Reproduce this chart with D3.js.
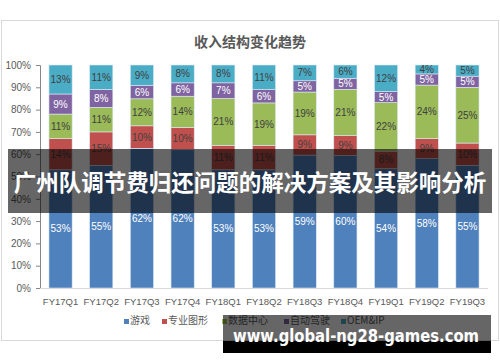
<!DOCTYPE html>
<html>
<head>
<meta charset="utf-8">
<script src="https://cdn.jsdelivr.net/npm/d3@7"></script>
<style>
  body { margin: 0; background: #fff; }
  text { font-family: "Microsoft YaHei", "Noto Sans CJK SC", sans-serif; }
</style>
</head>
<body>
<script>
// data
var quarters = ["FY17Q1","FY17Q2","FY17Q3","FY17Q4","FY18Q1","FY18Q2","FY18Q3","FY18Q4","FY19Q1","FY19Q2","FY19Q3"];
var seriesNames = ["游戏","专业图形","数据中心","自动驾驶","OEM&IP"];
var gaming     = [53,55,62,62,53,53,59,60,54,58,55];
var proViz     = [14,15,10,10,11,11, 9, 9, 8, 9,10];
var dataCenter = [11,11,12,14,21,19,19,21,22,24,25];
var auto       = [ 9, 8, 6, 6, 7, 6, 5, 5, 5, 5, 5];
var oem        = [13,11, 9, 8, 8,11, 7, 6,12, 4, 5];
var yTicks = [0,0.1,0.2,0.3,0.4,0.5,0.6,0.7,0.8,0.9,1];

var colors = ["#4f81bd","#c0504d","#9bbb59","#8064a2","#4bacc6"];
var labelColors = ["#fff","#404040","#404040","#fff","#404040"];

var w = 500, h = 362;

// build rows for the stack, normalised to 100%
var allSeries = [gaming, proViz, dataCenter, auto, oem];
var rows = quarters.map(function(q, i){
    var total = d3.sum(allSeries, function(s){ return s[i]; });
    var row = {quarter: q};
    seriesNames.forEach(function(name, k){
        row[name] = allSeries[k][i] / total;
        row[name + "_raw"] = allSeries[k][i];
    });
    return row;
});

var stacked = d3.stack().keys(seriesNames)(rows);

var svg = d3.select("body").append("svg")
    .attr("width", w)
    .attr("height", h);

// chart frame
svg.append("rect")
    .attr("x", 1.5).attr("y", 20.5)
    .attr("width", 497).attr("height", 320)
    .attr("fill", "#fff")
    .attr("stroke", "#d9d9d9");

// title
svg.append("text")
    .attr("x", 250).attr("y", 47)
    .attr("text-anchor", "middle")
    .attr("font-size", 14)
    .attr("font-weight", "bold")
    .attr("fill", "#595959")
    .text("收入结构变化趋势");

var x = d3.scaleBand()
    .domain(quarters)
    .range([40, 488])
    .paddingInner(0.43)
    .paddingOuter(0.22);

var y = d3.scaleLinear()
    .domain([0, 1])
    .range([288, 65]);

// y axis
var yAxis = svg.append("g")
    .attr("transform", "translate(40,0)")
    .call(d3.axisLeft(y).tickValues(yTicks).tickFormat(d3.format(".0%")).tickSize(4));
yAxis.select(".domain").attr("stroke", "#868686");
yAxis.selectAll(".tick line").attr("stroke", "#868686");
yAxis.selectAll("text")
    .attr("fill", "#595959")
    .attr("font-size", 10)
    .attr("x", -9)
    .style("font-family", "'Liberation Sans', Arial, sans-serif");

// bars
var layer = svg.selectAll("g.layer")
    .data(stacked)
    .enter()
    .append("g")
    .attr("class", "layer")
    .attr("fill", function(d, i){ return colors[i]; });

layer.selectAll("rect")
    .data(function(d){ return d; })
    .enter()
    .append("rect")
    .attr("x", function(d){ return x(d.data.quarter); })
    .attr("width", x.bandwidth())
    .attr("y", function(d){ return y(d[1]); })
    .attr("height", function(d){ return y(d[0]) - y(d[1]); })
    .attr("stroke", "#ddeaf5")
    .attr("stroke-width", 0.6);

// value labels
layer.each(function(s, k){
    d3.select(this).selectAll("text")
        .data(s)
        .enter()
        .append("text")
        .attr("x", function(d){ return x(d.data.quarter) + x.bandwidth() / 2; })
        .attr("y", function(d){ return (y(d[0]) + y(d[1])) / 2 + 3.5; })
        .attr("text-anchor", "middle")
        .attr("font-size", 10)
        .attr("fill", labelColors[k])
        .style("font-family", "'Liberation Sans', Arial, sans-serif")
        .text(function(d){ return d.data[s.key + "_raw"] + "%"; });
});

// x axis line
svg.append("line")
    .attr("x1", 40).attr("x2", 488)
    .attr("y1", 288.5).attr("y2", 288.5)
    .attr("stroke", "#d9d9d9");

svg.selectAll("text.xlab")
    .data(quarters)
    .enter()
    .append("text")
    .attr("class", "xlab")
    .attr("x", function(d){ return x(d) + x.bandwidth() / 2; })
    .attr("y", 305)
    .attr("text-anchor", "middle")
    .attr("font-size", 9.5)
    .attr("fill", "#595959")
    .style("font-family", "'Liberation Sans', Arial, sans-serif")
    .text(function(d){ return d; });

// legend
var legendX = [124, 162, 222, 284, 341];
var legend = svg.selectAll("g.legend")
    .data(seriesNames)
    .enter()
    .append("g")
    .attr("class", "legend")
    .attr("transform", function(d, i){ return "translate(" + legendX[i] + ",324)"; });
legend.append("rect")
    .attr("x", 0).attr("y", -5)
    .attr("width", 5).attr("height", 5)
    .attr("fill", function(d, i){ return colors[i]; });
legend.append("text")
    .attr("x", 6).attr("y", 0)
    .attr("font-size", 10)
    .attr("fill", "#595959")
    .text(function(d){ return d; });

// dark banner with headline
svg.append("rect")
    .attr("x", 8).attr("y", 149)
    .attr("width", 484).attr("height", 64)
    .attr("fill", "#000")
    .attr("opacity", 0.6);
svg.append("text")
    .attr("x", 250).attr("y", 191)
    .attr("text-anchor", "middle")
    .attr("font-size", 22.5)
    .attr("font-weight", "bold")
    .attr("fill", "#fff")
    .text("广州队调节费归还问题的解决方案及其影响分析");

// watermark
svg.append("rect")
    .attr("x", 223).attr("y", 315)
    .attr("width", 268).attr("height", 26)
    .attr("fill", "#000")
    .attr("opacity", 0.6);
svg.append("rect")
    .attr("x", 223).attr("y", 341)
    .attr("width", 268).attr("height", 12)
    .attr("fill", "#000");
svg.append("text")
    .attr("x", 233).attr("y", 342)
    .attr("font-size", 17)
    .attr("font-weight", "bold")
    .attr("fill", "#fff")
    .attr("textLength", 246)
    .attr("lengthAdjust", "spacingAndGlyphs")
    .style("font-family", "'DejaVu Sans', sans-serif")
    .text("www.global-ng28-games.com");
</script>
</body>
</html>
